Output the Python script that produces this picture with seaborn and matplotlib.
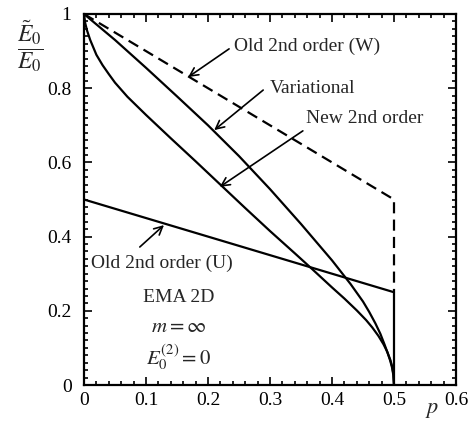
import numpy as np
import pandas as pd
import matplotlib
matplotlib.use('Agg')
import matplotlib.pyplot as plt
from matplotlib.ticker import MultipleLocator
import seaborn as sns

# ─── Datos ──────────────────────────────────────────────────────────────────
p_var = [0, 0.05, 0.10, 0.15, 0.20, 0.25, 0.30, 0.35, 0.40, 0.43, 0.45, 0.46, 0.47,
         0.478, 0.485, 0.49, 0.494, 0.497, 0.499, 0.50]
e_var = [1, 0.93, 0.855, 0.778, 0.70, 0.617, 0.528, 0.434, 0.336, 0.272, 0.225, 0.197, 0.166,
         0.138, 0.108, 0.085, 0.065, 0.046, 0.026, 0]

p_new = [0, 0.002, 0.005, 0.01, 0.02, 0.03, 0.04, 0.05, 0.07, 0.10, 0.14, 0.18, 0.22, 0.26,
         0.30, 0.34, 0.367, 0.40, 0.42, 0.44, 0.455, 0.465, 0.475, 0.483, 0.489, 0.494, 0.497,
         0.499, 0.50]
e_new = [1, 0.975, 0.955, 0.93, 0.89, 0.862, 0.838, 0.815, 0.777, 0.728, 0.665, 0.603, 0.54, 0.477,
         0.415, 0.355, 0.314, 0.263, 0.233, 0.201, 0.175, 0.155, 0.132, 0.11, 0.09, 0.068, 0.05,
         0.03, 0]

p_w = [0, 0.5, 0.5]
e_w = [1, 0.5, 0.25]

p_u = [0, 0.5, 0.5]
e_u = [0.5, 0.25, 0]

xticks = [0, 0.1, 0.2, 0.3, 0.4, 0.5, 0.6]
xtick_labels = ['0', '0.1', '0.2', '0.3', '0.4', '0.5', '0.6']
yticks = [0, 0.2, 0.4, 0.6, 0.8, 1]
ytick_labels = ['0', '0.2', '0.4', '0.6', '0.8', '1']

# ─── Estilo ─────────────────────────────────────────────────────────────────
sns.set_style('ticks')
plt.rcParams['font.family'] = ['Liberation Serif', 'DejaVu Serif']
plt.rcParams['mathtext.fontset'] = 'stix'

LW = 1.6
fig = plt.figure(figsize=(4.73, 4.24), dpi=100)
ax = fig.add_axes([84/473, 1 - 385/424, (456 - 84)/473, (385 - 14)/424])

opts = dict(color='black', linewidth=LW, sort=False, estimator=None, ax=ax, legend=False)
sns.lineplot(x=p_var, y=e_var, **opts)
sns.lineplot(x=p_new, y=e_new, **opts)
sns.lineplot(x=p_u, y=e_u, **opts)
sns.lineplot(x=p_w, y=e_w, linestyle=(0, (5, 2.8)), **opts)

ax.set_xlim(0, 0.6)
ax.set_ylim(0, 1)
ax.set_xticks(xticks)
ax.set_xticklabels(xtick_labels)
ax.set_yticks(yticks)
ax.set_yticklabels(ytick_labels)
ax.xaxis.set_minor_locator(MultipleLocator(0.02))
ax.yaxis.set_minor_locator(MultipleLocator(0.02))
ax.tick_params(which='both', direction='in', top=True, right=True, width=1.2, colors='black')
ax.tick_params(which='major', length=6, labelsize=14)
ax.tick_params(which='minor', length=3)
ax.tick_params(axis='y', pad=9)
ax.tick_params(axis='x', pad=5)
for s in ax.spines.values():
    s.set_linewidth(1.6)
    s.set_color('black')
ax.set_xlabel('')
ax.set_ylabel('')

# Etiquetas de ejes
fig.text(30/473, 1 - 46/424, r'$\dfrac{\tilde{E}_0}{E_0}$', fontsize=17, ha='center', va='center')
fig.text(432/473, 1 - 410/424, r'$p$', fontsize=16, ha='center', va='center')

# Flechas y textos
arrow = dict(arrowstyle='->,head_length=0.6,head_width=0.3', color='black', lw=1.2,
             shrinkA=0, shrinkB=0)
fs = 14
ax.annotate('', xy=(0.168, 0.830), xytext=(0.234, 0.906), arrowprops=arrow)
ax.text(0.242, 0.914, 'Old 2nd order (W)', fontsize=fs, ha='left', va='center')

ax.annotate('', xy=(0.210, 0.687), xytext=(0.289, 0.795), arrowprops=arrow)
ax.text(0.300, 0.800, 'Variational', fontsize=fs, ha='left', va='center')

ax.annotate('', xy=(0.219, 0.534), xytext=(0.353, 0.685), arrowprops=arrow)
ax.text(0.358, 0.717, 'New 2nd order', fontsize=fs, ha='left', va='center')

ax.annotate('', xy=(0.129, 0.431), xytext=(0.090, 0.372), arrowprops=arrow)
ax.text(0.011, 0.329, 'Old 2nd order (U)', fontsize=fs, ha='left', va='center')

ax.text(0.153, 0.237, 'EMA 2D', fontsize=fs, ha='center', va='center')
ax.text(0.153, 0.154, r'$m = \infty$', fontsize=fs + 1, ha='center', va='center')
ax.text(0.153, 0.075, r'$E_0^{(2)} = 0$', fontsize=fs + 1, ha='center', va='center')

fig.savefig('out.png', dpi=100)
